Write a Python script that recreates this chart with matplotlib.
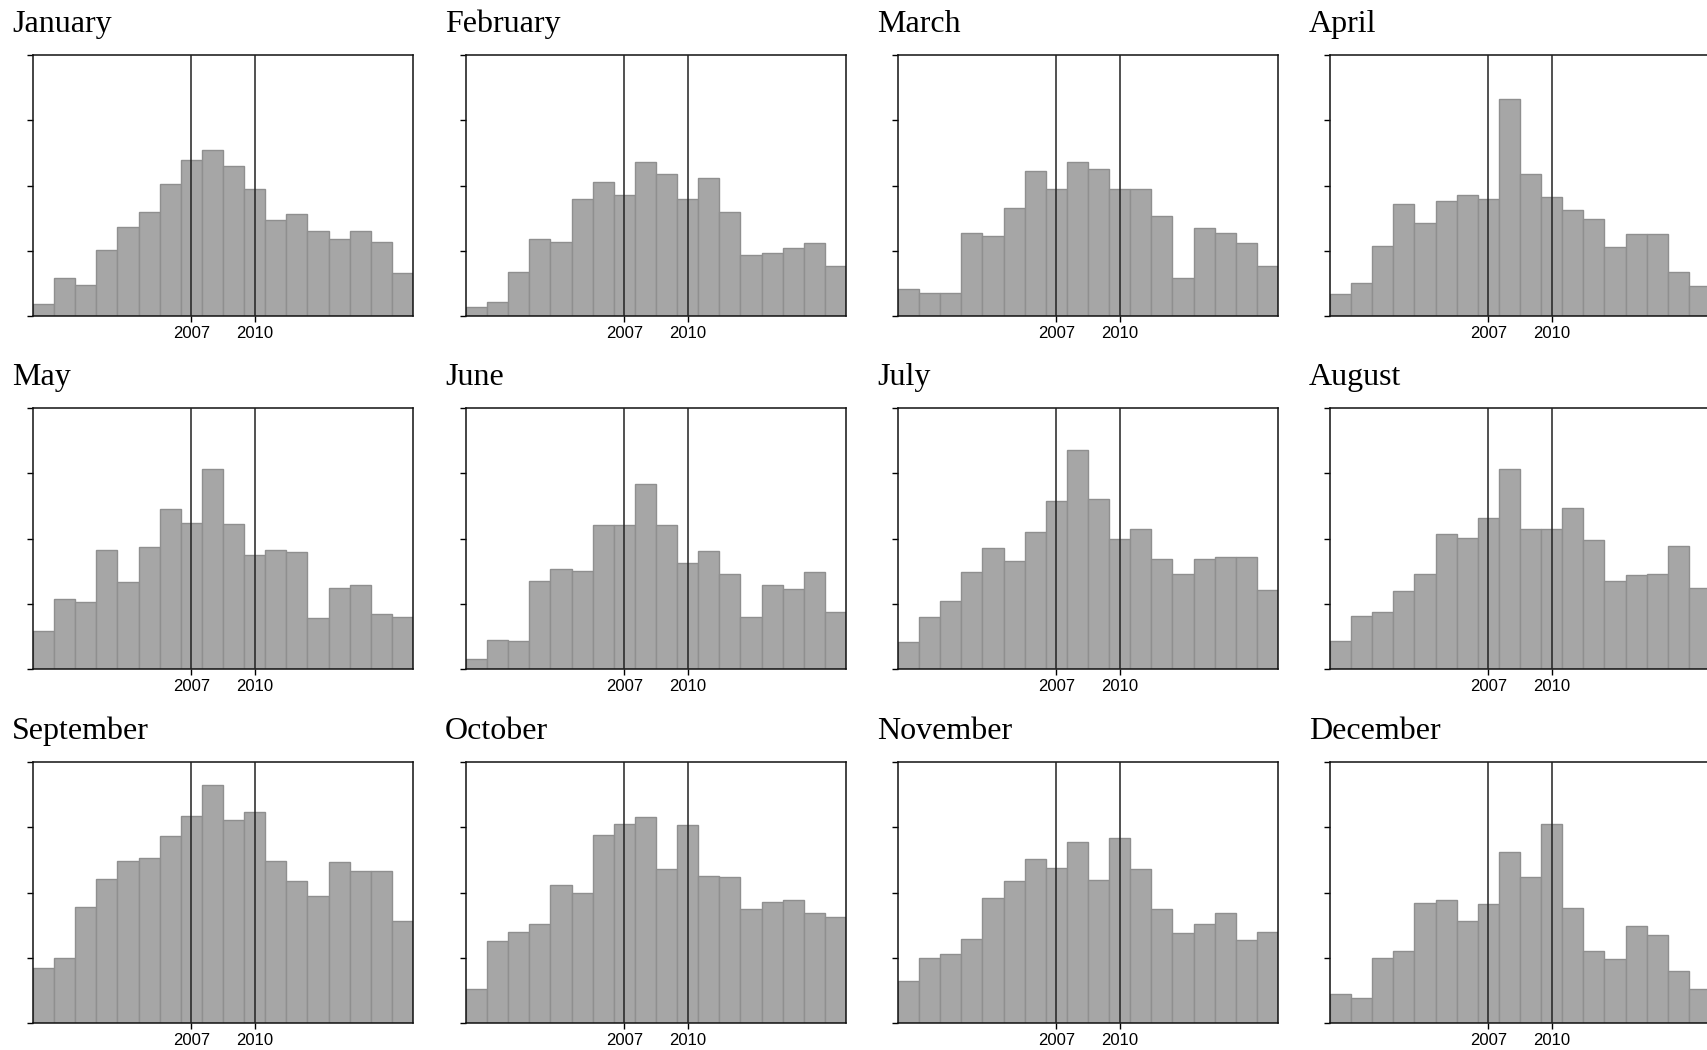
import matplotlib
matplotlib.use("Agg")
import matplotlib.pyplot as plt
import numpy as np

# yearly counts per calendar month, years 2000-2017
years = np.arange(2000, 2018)
months = ["January", "February", "March", "April", "May", "June",
          "July", "August", "September", "October", "November", "December"]

jan = [1.9, 5.9, 4.8, 10.1, 13.7, 15.9, 20.2, 23.9, 25.4, 23.0, 19.4, 14.7, 15.6, 13.1, 11.8, 13.0, 11.4, 6.6]
feb = [1.4, 2.2, 6.8, 11.8, 11.3, 17.9, 20.6, 18.5, 23.6, 21.7, 17.9, 21.1, 15.9, 9.3, 9.7, 10.4, 11.2, 7.6]
mar = [4.2, 3.5, 3.6, 12.7, 12.3, 16.6, 22.2, 19.5, 23.6, 22.5, 19.5, 19.5, 15.4, 5.9, 13.5, 12.7, 11.2, 7.6]
apr = [3.3, 5.0, 10.8, 17.2, 14.2, 17.6, 18.5, 18.0, 33.3, 21.8, 18.2, 16.3, 14.8, 10.6, 12.5, 12.6, 6.7, 4.6]
may = [5.8, 10.7, 10.3, 18.3, 13.4, 18.7, 24.5, 22.4, 30.7, 22.2, 17.5, 18.3, 18.0, 7.8, 12.4, 12.9, 8.5, 7.9]
jun = [1.6, 4.5, 4.3, 13.5, 15.4, 15.0, 22.0, 22.0, 28.3, 22.1, 16.3, 18.1, 14.5, 7.9, 12.9, 12.3, 14.9, 8.8]
jul = [4.1, 8.0, 10.4, 14.9, 18.6, 16.6, 21.0, 25.8, 33.5, 26.1, 20.0, 21.4, 16.8, 14.5, 16.9, 17.2, 17.1, 12.1]
aug = [4.3, 8.1, 8.7, 11.9, 14.5, 20.7, 20.1, 23.1, 30.6, 21.5, 21.4, 24.7, 19.7, 13.5, 14.4, 14.5, 18.9, 12.4]
sep = [8.5, 9.9, 17.8, 22.1, 24.9, 25.3, 28.6, 31.7, 36.4, 31.1, 32.3, 24.9, 21.7, 19.4, 24.7, 23.3, 23.3, 15.6]
octo = [5.2, 12.6, 13.9, 15.1, 21.2, 20.0, 28.8, 30.5, 31.5, 23.6, 30.3, 22.6, 22.3, 17.4, 18.6, 18.8, 16.9, 16.2]
nov = [6.5, 9.9, 10.6, 12.9, 19.1, 21.7, 25.2, 23.8, 27.8, 21.9, 28.3, 23.6, 17.4, 13.8, 15.1, 16.9, 12.7, 14.0]
dec = [4.5, 3.8, 10.0, 11.1, 18.4, 18.9, 15.6, 18.2, 26.2, 22.4, 30.5, 17.7, 11.0, 9.8, 14.9, 13.5, 7.9, 5.2]

data = [jan, feb, mar, apr, may, jun, jul, aug, sep, octo, nov, dec]
marks = [2007, 2010]

fig = plt.figure(figsize=(17.07, 10.50), dpi=100)
W, H = 1707.0, 1050.0

lefts = [33, 466, 898, 1330]
tops = [55, 408, 762]
aw, ah = 380, 261

for i, (name, vals) in enumerate(zip(months, data)):
    r, c = divmod(i, 4)
    ax = fig.add_axes([lefts[c] / W, 1 - (tops[r] + ah) / H, aw / W, ah / H])
    ax.bar(years, vals, width=1.0, color="#a6a6a6", edgecolor="#8f8f8f", linewidth=1.0, zorder=2)
    for m in marks:
        ax.axvline(m, color="#222222", linewidth=1.1, zorder=3)
    ax.set_xlim(1999.5, 2017.5)
    ax.set_ylim(0, 40)
    ax.set_xticks(marks)
    ax.set_xticklabels([str(m) for m in marks], fontfamily="Liberation Sans", fontsize=12)
    ax.set_yticks([0, 10, 20, 30, 40])
    ax.set_yticklabels([])
    ax.tick_params(direction="out", length=4, width=1, pad=3)
    for s in ax.spines.values():
        s.set_linewidth(1.1)
        s.set_color("#111111")
    ax.text(-0.055, 1.09, name, transform=ax.transAxes, fontfamily="Liberation Serif",
            fontsize=23, ha="left", va="baseline")

fig.savefig("out.png", dpi=100)
